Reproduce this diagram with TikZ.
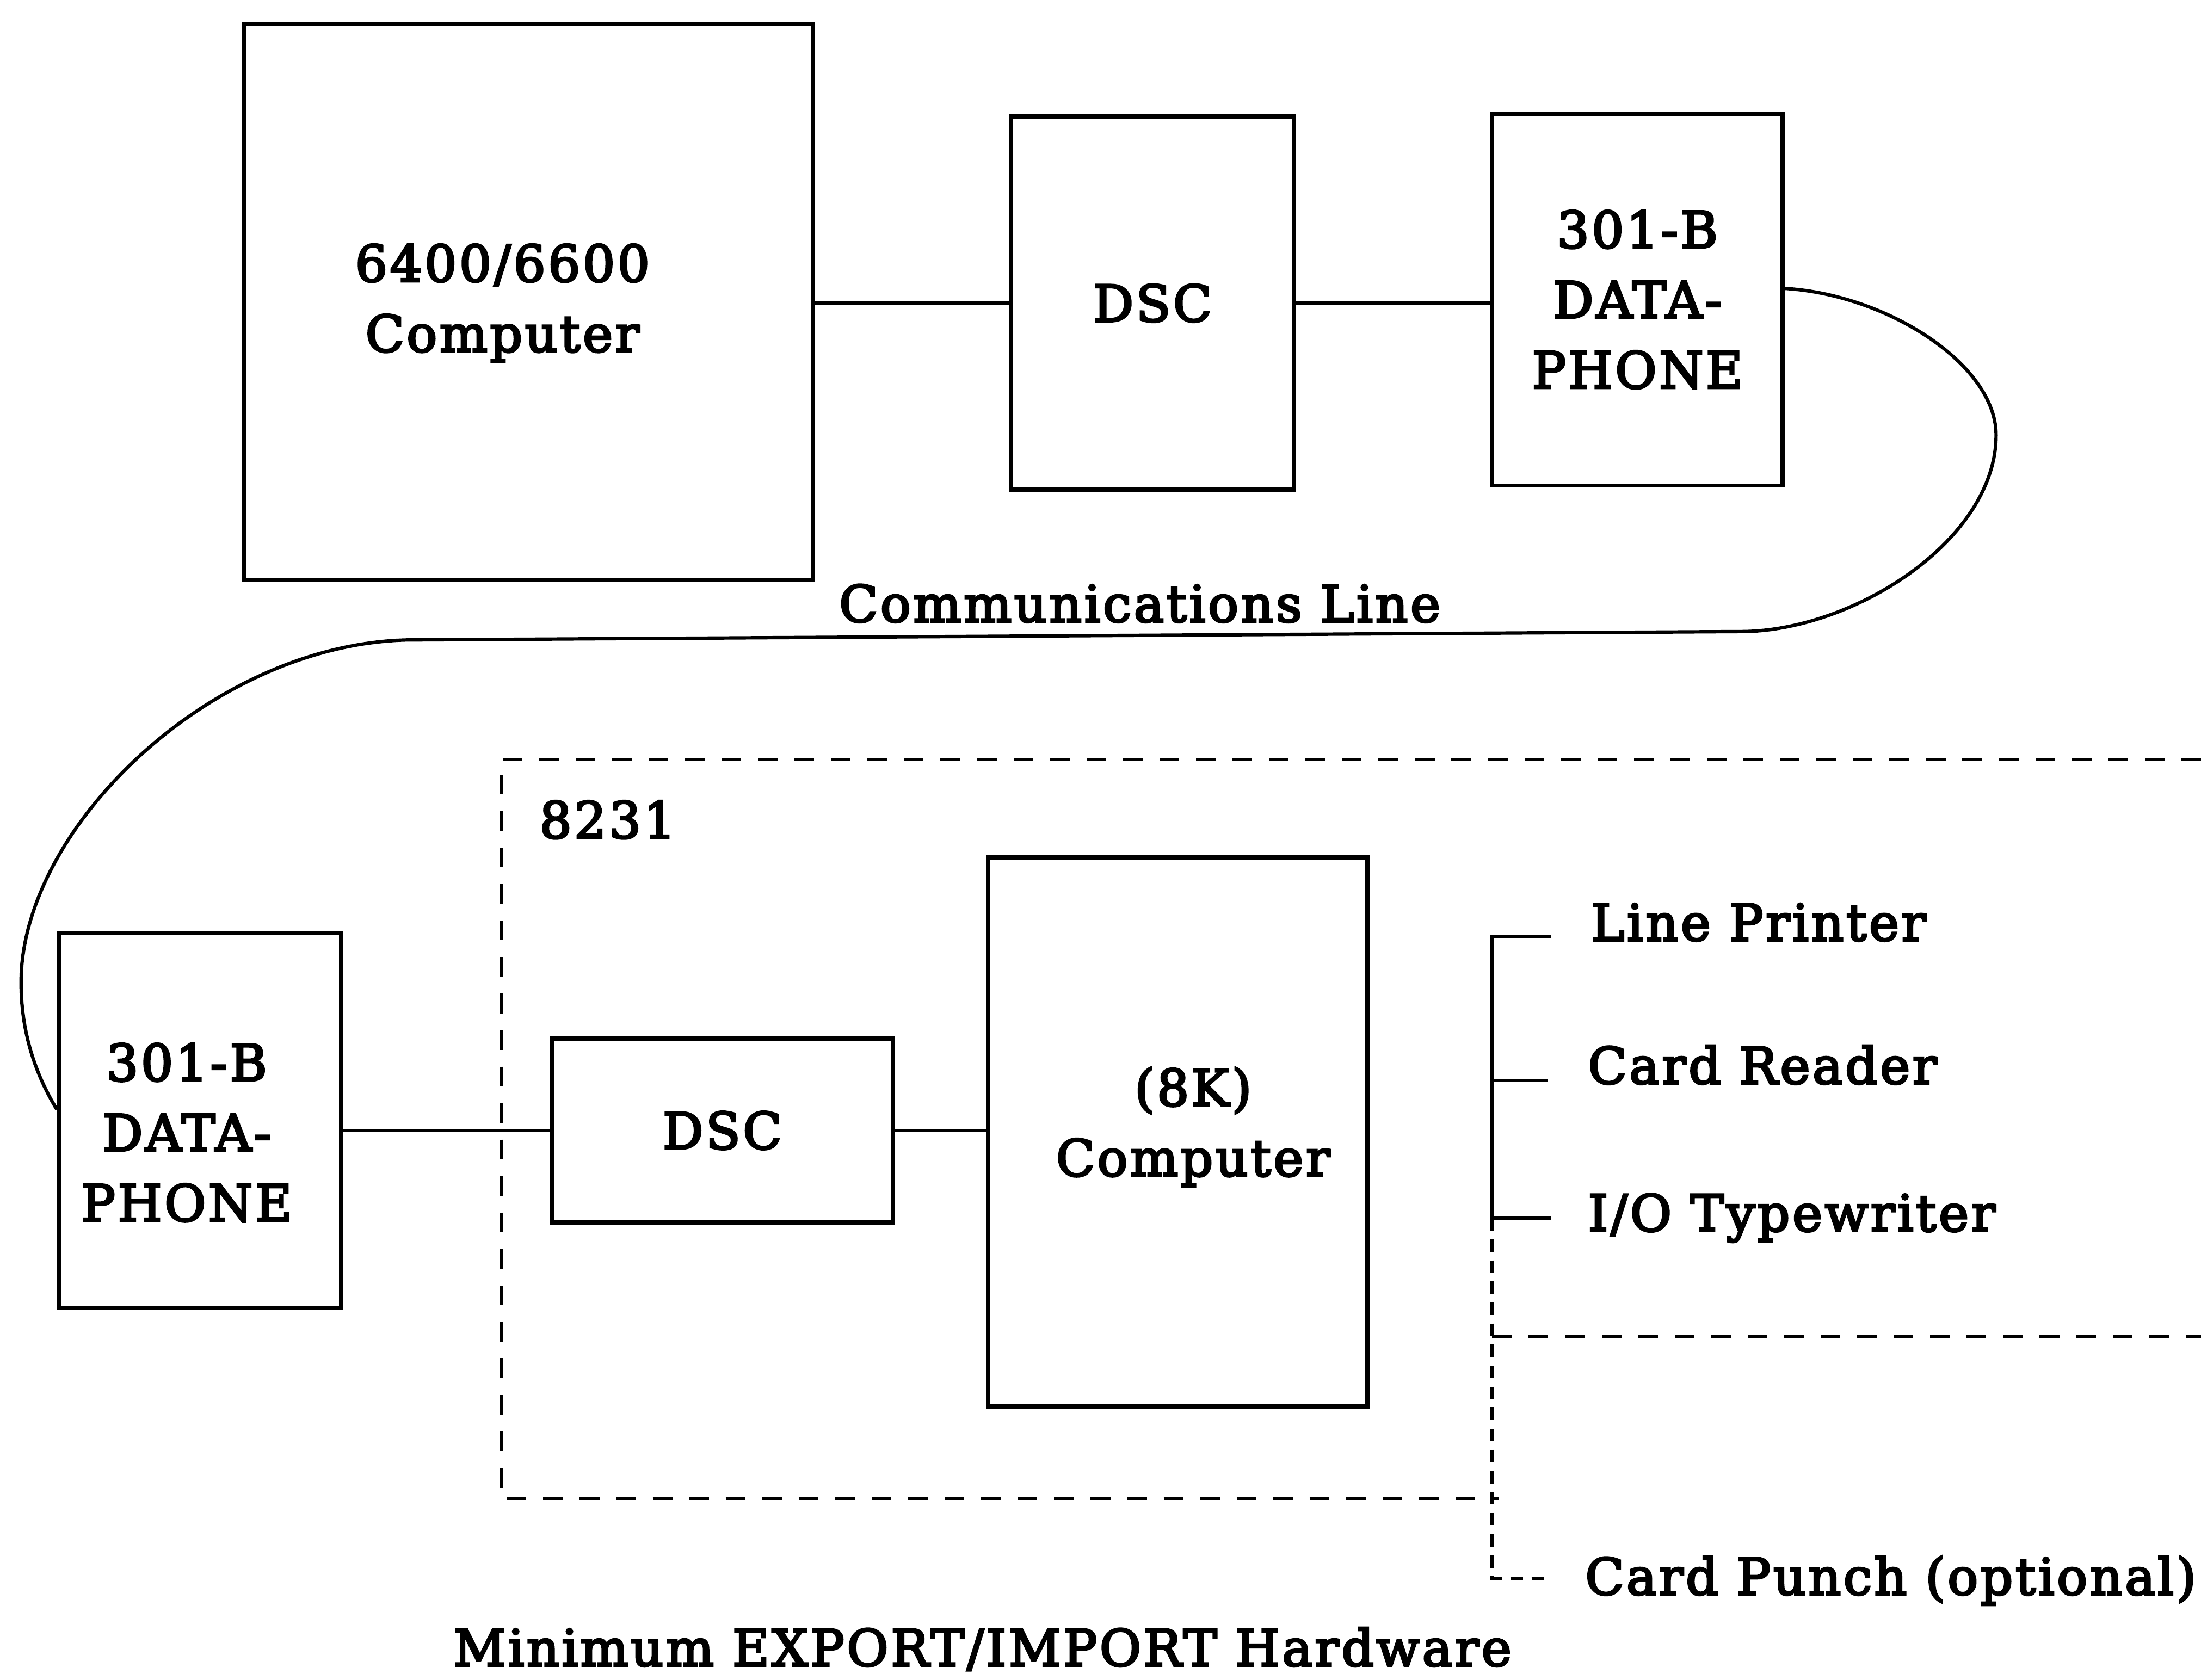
\documentclass[tikz,border=0pt]{standalone}
\usepackage{fontspec}
\setmainfont{DejaVu Serif}[LetterSpace=5,FakeBold=4]
\begin{document}
\begin{tikzpicture}[x=0.5pt,y=-0.5pt,
  txt/.style={font=\fontsize{18}{25}\selectfont,align=center,inner sep=0pt},
  box/.style={draw,line width=1.5pt,inner sep=0pt},
  conn/.style={line width=1.1pt},
  dashline/.style={line width=1.2pt,dash pattern=on 7pt off 6pt},
  smalldash/.style={line width=1.2pt,dash pattern=on 4.5pt off 3pt},
  lbl/.style={font=\fontsize{18}{25}\selectfont,inner sep=0pt,anchor=mid west}]
\useasboundingbox (0,0) rectangle (1568,1197);
% top row
\node[box,minimum width=405*0.5pt,minimum height=396*0.5pt] (big) at (376.5,215) {};
\node[txt] (bigt) at (358,216) {6400/6600\\Computer};
\node[box,txt,minimum width=202*0.5pt,minimum height=266*0.5pt] (dsc1) at (821,216) {DSC};
\node[box,txt,minimum width=207*0.5pt,minimum height=265*0.5pt] (dp1) at (1166.5,213.5) {301-B\\DATA-\\PHONE};
\draw[conn] (big.east |- dsc1.west) -- (dsc1.west);
\draw[conn] (dsc1.east) -- (dsc1.east -| dp1.west);
% lower row
\node[box,minimum width=201*0.5pt,minimum height=267*0.5pt] (dp2) at (142.5,798.5) {};
\node[txt] (dp2t) at (133,807) {301-B\\DATA-\\PHONE};
\node[box,txt,minimum width=243*0.5pt,minimum height=131*0.5pt] (dsc2) at (514.5,805.5) {DSC};
\node[box,minimum width=270*0.5pt,minimum height=391*0.5pt] (comp) at (839,806.5) {};
\node[txt] (compt) at (850,803) {(8K)\\Computer};
\draw[conn] (dp2.east |- dsc2.west) -- (dsc2.west);
\draw[conn] (dsc2.east) -- (comp.west |- dsc2.east);
% communications line
\draw[line width=1.2pt] ([yshift=4pt]dp1.east) .. controls (1345,210) and (1422,260) .. (1422,310)
  .. controls (1422,385) and (1320,450) .. (1240,450) -- (289,456)
  .. controls (150,460) and (15,590) .. (15,700)
  .. controls (15,740) and (28,770) .. ([yshift=4pt]dp2.west);
\node[txt] (comm) at (812,430) {Communications Line};
% 8231 enclosure
\draw[dashline] (1568,541) -- (357,541) -- (357,1068) -- (1068,1068);
\node[lbl] (lab8231) at (384,592) {8231};
% peripherals
\node[lbl] (lp) at (1133,665) {Line Printer};
\node[lbl] (cr) at (1131,767) {Card Reader};
\node[lbl] (io) at (1131,872) {I/O Typewriter};
\node[lbl] (cp) at (1129,1131) {Card Punch (optional)};
\coordinate (bt) at (1063,667);
\coordinate (bm) at (1063,770);
\coordinate (bb) at (1063,868);
\coordinate (bp) at (1063,1125);
\draw[conn] ([xshift=-14pt]lp.west |- bt) -- (bt) -- (bb) -- ([xshift=-13pt]io.west |- bb);
\draw[conn] (bm) -- ([xshift=-14pt]cr.west |- bm);
\draw[smalldash] (bb) -- (bp) -- ([xshift=-12pt]cp.west |- bp);
\draw[dashline] (1063,952) -- (1568,952);
\node[txt] (title) at (700,1175) {Minimum EXPORT/IMPORT Hardware};
\end{tikzpicture}
\end{document}
